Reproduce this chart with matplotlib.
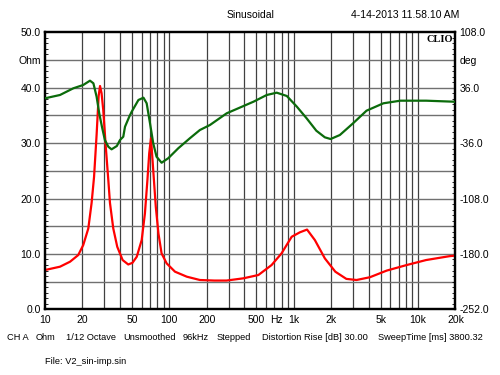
import numpy as np
import matplotlib
matplotlib.use('Agg')
import matplotlib.pyplot as plt

plt.rcParams['font.family'] = ['Liberation Sans', 'DejaVu Sans']

# impedance curve (Hz, Ohm)
imp_f = [10, 13.2, 15.9, 18.5, 20.3, 22.3, 23.7, 24.8, 26.0, 27.0, 27.7, 28.5, 29.4, 30.8, 32.3,
         33.3, 35.4, 38.1, 42.1, 46.7, 50.5, 54.7, 59.9, 63.6, 66.6, 68.9, 71.2,
         74.2, 77.8, 81.7, 86.6, 95.1, 111, 138, 176, 230, 288, 393, 520, 664, 798,
         963, 1120, 1280, 1480, 1780, 2160, 2650, 3200, 4100, 5600, 8100, 11600,
         17900, 20000]
imp_z = [7.1, 7.7, 8.6, 9.8, 11.6, 14.6, 19.2, 23.9, 31.5, 38.5, 40.3, 39.0, 36.0, 29.4, 23.3,
         19.2, 14.6, 11.3, 8.9, 8.1, 8.4, 9.5, 12.5, 17.3, 23.3, 28.2, 30.9,
         25.1, 18.5, 13.7, 10.1, 8.3, 6.8, 5.9, 5.3, 5.2, 5.2, 5.6, 6.2, 8.0, 10.1,
         13.1, 13.9, 14.4, 12.5, 9.2, 6.8, 5.5, 5.3, 5.8, 7.0, 8.0, 8.9,
         9.6, 9.7]

# phase curve (Hz, deg)
ph_f = [10, 13.2, 16.9, 20.3, 23.0, 24.5, 26.0, 27.3, 28.7, 30.3, 32.3, 34.3, 37.8,
        40.1, 42.6, 44.0, 47.6, 49.8, 56.4, 61.9, 65.7, 69.9, 74.2, 78.9, 86.6,
        97.9, 118, 146, 176, 212, 289, 475, 607, 730, 880, 1060, 1270, 1520, 1780,
        1980, 2350, 3000, 3850, 5260, 7200, 11600, 19200, 20000]
ph_d = [22.2, 26.5, 35.2, 39.5, 45.1, 41.7, 24.3, 2.7, -14.7, -32.0, -40.7, -44.1, -39.8,
        -32.0, -27.7, -14.7, -1.7, 4.8, 20.0, 23.0, 15.7, -10.3, -36.3, -53.7, -61.5,
        -55.7, -42.7, -29.8, -19.0, -12.5, 2.7, 17.8, 26.5, 29.5, 25.2, 11.3, -3.8, -19.9, -28.5,
        -30.7, -25.5, -10.3, 6.1, 15.7, 19.1, 19.1, 17.8, 17.6]

x_ticks = [10, 20, 50, 100, 200, 500, 720, 1000, 2000, 5000, 10000, 20000]
x_labels = ['10', '20', '50', '100', '200', '500', 'Hz', '1k', '2k', '5k', '10k', '20k']
l_ticks = [0, 10, 20, 30, 40, 45, 50]
l_labels = ['0.0', '10.0', '20.0', '30.0', '40.0', 'Ohm', '50.0']
r_ticks = [-252, -180, -108, -36, 36, 72, 108]
r_labels = ['-252.0', '-180.0', '-108.0', '-36.0', '36.0', 'deg', '108.0']

# footer pieces and their left edges (pixels)
footer = ['CH A', 'Ohm', '1/12 Octave', 'Unsmoothed', '96kHz', 'Stepped',
          'Distortion Rise [dB] 30.00', 'SweepTime [ms] 3800.32']
footer_x = [7, 36, 66, 123, 183, 217, 262, 378]

fig = plt.figure(figsize=(5, 3.75), dpi=100)
ax = fig.add_axes([0.09, 0.175, 0.821, 0.739])
ax.set_xscale('log')
ax.set_xlim(10, 20000)
ax.set_ylim(0, 50)

# grid
for d in [10, 100, 1000, 10000]:
    for m in range(1, 10):
        if 10 < d * m < 20000:
            ax.axvline(d * m, color='#404040', lw=0.9, zorder=1)
for g in range(5, 50, 5):
    ax.axhline(g, color='#707070', lw=1.0, zorder=1)

ax2 = ax.twinx()
ax2.set_ylim(-252, 108)

ax.plot(imp_f, imp_z, color='#ff0000', lw=1.6, zorder=3)
ax2.plot(ph_f, ph_d, color='#0b6b0b', lw=1.6, zorder=3)

ax.set_xticks(x_ticks)
ax.set_xticklabels(x_labels)
ax.xaxis.set_minor_locator(matplotlib.ticker.NullLocator())
ax.tick_params(axis='x', length=0, pad=4, labelsize=7.5)

ax.set_yticks(l_ticks)
ax.set_yticklabels(l_labels)
ax.set_yticks(np.arange(0, 51, 1), minor=True)
ax.tick_params(axis='y', which='major', length=0, pad=3, labelsize=7.5)
ax.tick_params(axis='y', which='minor', direction='in', length=2.5, width=0.6)

ax2.set_yticks(r_ticks)
ax2.set_yticklabels(r_labels)
ax2.set_yticks(np.arange(-252, 109, 7.2), minor=True)
ax2.tick_params(axis='y', which='major', length=0, pad=3, labelsize=7.5)
ax2.tick_params(axis='y', which='minor', direction='in', length=2.5, width=0.6)

for a in (ax, ax2):
    for s in a.spines.values():
        s.set_linewidth(1.6)
        s.set_color('black')

ax.text(0.995, 0.99, 'CLIO', transform=ax.transAxes, ha='right', va='top',
        fontsize=7.5, fontweight='bold', family='Liberation Serif', zorder=5)

fig.text(0.502, 0.96, 'Sinusoidal', ha='center', va='center', fontsize=7.5)
fig.text(0.81, 0.96, '4-14-2013 11.58.10 AM', ha='center', va='center', fontsize=7.5)
for t, px in zip(footer, footer_x):
    fig.text(px / 500, 1 - 338 / 375, t, ha='left', va='center', fontsize=6.7)
fig.text(0.09, 1 - 362 / 375, 'File: V2_sin-imp.sin', ha='left', va='center', fontsize=6.7)

fig.savefig('out.png', dpi=100, facecolor='white')
